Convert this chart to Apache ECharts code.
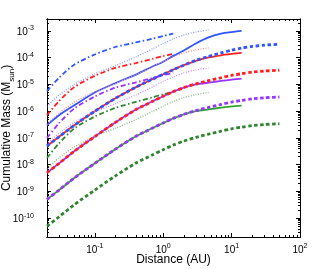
<!DOCTYPE html>
<html><head><meta charset="utf-8">
<script src="https://cdn.jsdelivr.net/npm/echarts@6/dist/echarts.min.js"></script>
<style>html,body{margin:0;padding:0;background:#fff}#c{width:328px;height:269px}</style>
</head><body><div id="c"></div>
<script>
// Distance samples (AU)
const distanceAU = [0.02, 0.03, 0.05, 0.1, 0.2, 0.4, 0.7, 1, 1.4, 2, 3, 4.6, 7, 10, 14, 20, 30, 50];

// Solid curves (to 14 AU)
const blueSolid   = [3.02e-7, 7.08e-7, 1.66e-6, 5.01e-6, 1.12e-5, 2.34e-5, 4.68e-5, 7.08e-5, 1.17e-4, 1.86e-4, 3.39e-4, 5.75e-4, 7.94e-4, 9.12e-4, 1.0e-3];
const redSolid    = [5.01e-8, 1.10e-7, 2.95e-7, 1.0e-6, 3.02e-6, 7.94e-6, 1.58e-5, 2.4e-5, 3.55e-5, 5.25e-5, 7.59e-5, 1.02e-4, 1.23e-4, 1.38e-4, 1.51e-4];
const purpleSolid = [5.0e-9, 1.12e-8, 3.16e-8, 1.12e-7, 3.8e-7, 1.15e-6, 2.34e-6, 3.63e-6, 5.37e-6, 7.59e-6, 1.0e-5, 1.17e-5, 1.35e-5, 1.51e-5, 1.66e-5];
const greenSolid  = [5.0e-10, 1.12e-9, 3.16e-9, 1.12e-8, 3.8e-8, 1.15e-7, 2.34e-7, 3.63e-7, 5.37e-7, 7.59e-7, 1.0e-6, 1.17e-6, 1.35e-6, 1.51e-6, 1.62e-6];

// Thick dotted curves (to 50 AU)
const blueThick   = [5.01e-8, 1.10e-7, 2.95e-7, 1.0e-6, 3.02e-6, 7.94e-6, 1.58e-5, 2.4e-5, 3.55e-5, 5.25e-5, 7.94e-5, 1.12e-4, 1.51e-4, 1.91e-4, 2.29e-4, 2.63e-4, 2.95e-4, 3.16e-4];
const redThick    = [5.0e-9, 1.12e-8, 3.16e-8, 1.12e-7, 3.8e-7, 1.15e-6, 2.34e-6, 3.63e-6, 5.37e-6, 7.59e-6, 1.05e-5, 1.38e-5, 1.78e-5, 2.19e-5, 2.51e-5, 2.88e-5, 3.16e-5, 3.39e-5];
const purpleThick = [5.0e-10, 1.12e-9, 3.16e-9, 1.12e-8, 3.8e-8, 1.15e-7, 2.34e-7, 3.63e-7, 5.37e-7, 7.59e-7, 1.05e-6, 1.38e-6, 1.78e-6, 2.19e-6, 2.51e-6, 2.88e-6, 3.16e-6, 3.39e-6];
const greenThick  = [5.0e-11, 1.12e-10, 3.16e-10, 1.12e-9, 3.8e-9, 1.15e-8, 2.34e-8, 3.63e-8, 5.37e-8, 7.59e-8, 1.05e-7, 1.38e-7, 1.78e-7, 2.19e-7, 2.51e-7, 2.88e-7, 3.16e-7, 3.39e-7];

// Dash-dot curves (to 1.4 AU)
const blueDashDot   = [5.62e-6, 1.78e-5, 5.5e-5, 1.32e-4, 2.51e-4, 3.72e-4, 5.13e-4, 6.46e-4, 7.94e-4];
const redDashDot    = [7.08e-7, 2.4e-6, 7.94e-6, 2.09e-5, 4.17e-5, 6.31e-5, 9.12e-5, 1.15e-4, 1.38e-4];
const purpleDashDot = [1.0e-7, 3.55e-7, 1.26e-6, 3.55e-6, 7.59e-6, 1.2e-5, 1.74e-5, 2.24e-5, 2.69e-5];
const greenDashDot  = [1.78e-8, 6.31e-8, 2.24e-7, 6.31e-7, 1.32e-6, 2.24e-6, 3.31e-6, 4.27e-6, 5.01e-6];

// Thin dotted curves (to 4.6 AU)
const blueDotted   = [1.51e-6, 3.98e-6, 1.0e-5, 2.51e-5, 5.01e-5, 1.07e-4, 2.14e-4, 3.39e-4, 5.01e-4, 7.08e-4, 9.12e-4, 1.1e-3];
const redDotted    = [3.24e-7, 8.51e-7, 2.14e-6, 5.37e-6, 1.07e-5, 2.29e-5, 4.57e-5, 7.24e-5, 1.07e-4, 1.51e-4, 1.95e-4, 2.34e-4];
const purpleDotted = [5.75e-8, 1.51e-7, 3.8e-7, 9.55e-7, 1.91e-6, 4.07e-6, 8.13e-6, 1.29e-5, 1.91e-5, 2.69e-5, 3.47e-5, 4.17e-5];
const greenDotted  = [6.92e-9, 1.82e-8, 4.57e-8, 1.15e-7, 2.29e-7, 4.9e-7, 9.77e-7, 1.55e-6, 2.29e-6, 3.24e-6, 4.17e-6, 5.01e-6];

// Axis ticks
const xMin = 0.02, xMax = 100;
const yMin = 1.97e-11, yMax = 2.8e-3;
const xMajorTicks = [0.1, 1, 10, 100];
const yMajorTicks = [1e-10, 1e-9, 1e-8, 1e-7, 1e-6, 1e-5, 1e-4, 1e-3];
const minorMultipliers = [2, 3, 4, 5, 6, 7, 8, 9];

const L = Math.log10;
function minors(lo, hi) {
  const out = [];
  for (let d = Math.floor(L(lo)); d <= Math.ceil(L(hi)); d++) {
    minorMultipliers.forEach(k => { const v = k * Math.pow(10, d); if (v >= lo && v <= hi) out.push(L(v)); });
  }
  return out;
}
const FONT = 'Liberation Sans';
const rich = {
  b: { fontSize: 10, fontFamily: FONT, color: '#000', lineHeight: 12, verticalAlign: 'bottom' },
  s: { fontSize: 7, fontFamily: FONT, color: '#000', verticalAlign: 'top' }
};
const fmt = v => '{b|10}{s|' + Math.round(v) + '}';

function axis(kind, pos, grid, ticks, len, labels, extra) {
  const isX = kind === 'x';
  return Object.assign({
    type: 'value', gridIndex: grid, position: pos,
    min: isX ? L(xMin) : L(yMin), max: isX ? L(xMax) : L(yMax),
    axisLine: { show: true, onZero: false, lineStyle: { color: '#000', width: 1 } },
    axisTick: { show: true, inside: true, length: len, customValues: ticks, lineStyle: { color: '#000', width: 1 } },
    axisLabel: labels ? { show: true, customValues: ticks, formatter: fmt, rich: rich, margin: isX ? 6 : 13 } : { show: false },
    splitLine: { show: false }
  }, extra || {});
}
const xMaj = xMajorTicks.map(L), yMaj = yMajorTicks.map(L);
const xMin_ = minors(xMin, xMax), yMin_ = minors(yMin, yMax);

const C = {
  blue: '#2f55ff', red: '#ff1f1f', purple: '#9a33ff', greenSolid: '#2ea52e', greenDark: '#2f852f',
  lblue: '#8a99ff', lred: '#ff8c8c', lpurple: '#c98cff', lgreen: '#86b886'
};
function line(vals, color, width, type, z) {
  return {
    type: 'line', xAxisIndex: 0, yAxisIndex: 0, showSymbol: false, smooth: 0.25, z: z,
    lineStyle: { color: color, width: width, type: type, cap: 'butt' },
    data: vals.map((v, i) => [L(distanceAU[i]), L(v)])
  };
}
const solidT = 'solid', thickT = [3.5, 2.5], ddT = [5, 2.5, 1.5, 2.5], dotT = [1, 1.5];
const series = [
  line(blueSolid, C.blue, 1.8, solidT, 2),
  line(redSolid, C.red, 1.8, solidT, 2),
  line(purpleSolid, C.purple, 1.8, solidT, 2),
  line(greenSolid, C.greenSolid, 1.8, solidT, 2),
  line(blueDotted, C.lblue, 1.3, dotT, 3),
  line(redDotted, C.lred, 1.3, dotT, 3),
  line(purpleDotted, C.lpurple, 1.3, dotT, 3),
  line(greenDotted, C.lgreen, 1.3, dotT, 3),
  line(blueDashDot, C.blue, 1.8, ddT, 4),
  line(redDashDot, C.red, 1.8, ddT, 4),
  line(purpleDashDot, C.purple, 1.8, ddT, 4),
  line(greenDashDot, C.greenDark, 1.8, ddT, 4),
  line(blueThick, C.blue, 2.8, thickT, 5),
  line(redThick, C.red, 2.8, thickT, 5),
  line(purpleThick, C.purple, 2.8, thickT, 5),
  line(greenThick, C.greenDark, 2.8, thickT, 5)
];

const gridBox = { left: 47, right: 28, top: 19, bottom: 32, containLabel: false, outerBoundsMode: 'none' };
const chart = echarts.init(document.getElementById('c'), null, { renderer: 'canvas' });
chart.setOption({
  animation: false,
  backgroundColor: '#fff',
  grid: [Object.assign({}, gridBox), Object.assign({}, gridBox)],
  xAxis: [
    axis('x', 'bottom', 0, xMaj, 4, true, {
      name: 'Distance (AU)', nameLocation: 'middle', nameGap: 17, nameMoveOverlap: false,
      nameTextStyle: { fontSize: 12, fontFamily: FONT, color: '#000' }
    }),
    axis('x', 'top', 0, xMaj, 4, false),
    axis('x', 'bottom', 1, xMin_, 2, false),
    axis('x', 'top', 1, xMin_, 2, false)
  ],
  yAxis: [
    axis('y', 'left', 0, yMaj, 4, true, {
      name: '{t|Cumulative Mass (M}{u|sun}{t|)}', nameLocation: 'middle', nameGap: 31, nameRotate: 90, nameMoveOverlap: false,
      nameTextStyle: { rich: {
        t: { fontSize: 12, fontFamily: FONT, color: '#000', lineHeight: 15, verticalAlign: 'top' },
        u: { fontSize: 8, fontFamily: FONT, color: '#000', verticalAlign: 'bottom' }
      } }
    }),
    axis('y', 'right', 0, yMaj, 4, false),
    axis('y', 'left', 1, yMin_, 2, false),
    axis('y', 'right', 1, yMin_, 2, false)
  ],
  series: series
});
</script>
</body></html>
